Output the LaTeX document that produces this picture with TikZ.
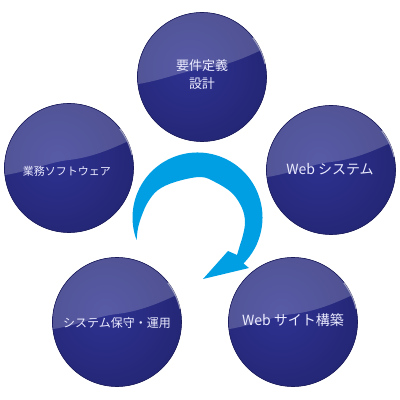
\documentclass[tikz,border=0pt]{standalone}
\usepackage{fontspec}
\newfontfamily\jp{Noto Sans CJK JP}
\definecolor{arrowblue}{HTML}{009FE3}
\definecolor{ballmid}{HTML}{2E3290}
\definecolor{balldark}{HTML}{1B1C5E}
\definecolor{ballrim}{HTML}{1C1D5C}
\newcommand\glossball[1]{%
  \begin{scope}[shift={#1}]
    \begin{scope}
      \clip (0,0) circle (64.5);
      \fill[balldark] (-70,-70) rectangle (70,70);
      \shade[inner color=ballmid, outer color=balldark] (-12,10) circle (150);
      \fill[white, fill opacity=0.2] (-70,-8) .. controls (-40,-4) and (-20,6) .. (0,8)
        .. controls (25,11) and (45,20) .. (70,32) -- (70,70) -- (-70,70) -- cycle;
    \end{scope}
    \draw[ballrim, line width=0.6pt] (0,0) circle (64.5);
    \draw[white, opacity=0.5, line width=1.1pt]
      (63,13) arc[start angle=12, end angle=38, radius=64];
  \end{scope}}
\tikzset{
  balltext/.style={circle, minimum size=129pt, inner sep=0pt, text=white!92!blue, align=center},
  ballfont/.style={font=\jp\fontsize{#1}{18}\selectfont}
}
\begin{document}
\begin{tikzpicture}[x=1pt, y=1pt]
  \useasboundingbox (0,0) rectangle (400,400);
  \glossball{(202,323)}
  \glossball{(331,230)}
  \glossball{(293,78)}
  \glossball{(117,78)}
  \glossball{(69,232)}
  \node[balltext, ballfont=13] (req) at (202,325) {要件定義\\設計};
  \node[balltext, ballfont=14] (web) at (330,231) {Web システム};
  \node[balltext, ballfont=14] (site) at (293,80) {Web サイト構築};
  \node[balltext, ballfont=12] (maint) at (117,77) {システム保守・運用};
  \node[balltext, ballfont=11] (soft) at (67,229) {業務ソフトウェア};
  \fill[arrowblue] (136.6,159.85) arc[start angle=200.4, end angle=-45, radius=65]
    -- (249,132) -- (203,121) -- (228,149) -- (237,145)
    -- plot[smooth, tension=0.6] coordinates {(237,145) (240,155) (243,165) (245,178)
       (242,192) (232,207) (215,218) (200,223) (175,218) (158,210) (148,198)
       (142,185) (138,172) (136.6,159.85)} -- cycle;
\end{tikzpicture}
\end{document}
